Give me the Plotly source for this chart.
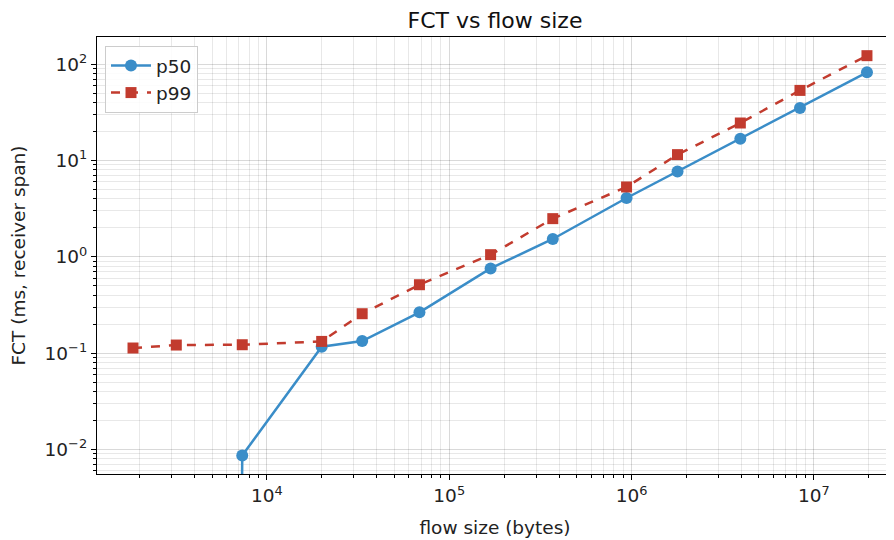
import numpy as np
import plotly.graph_objects as go

flow_size = [1843, 3184, 7323, 19970, 33300, 68650, 168600, 369800, 938900,
             1787000, 3950000, 8390000, 19550000]
p50 = [0, 0, 0.00867, 0.1165, 0.1336, 0.265, 0.758, 1.531, 4.08, 7.7, 16.85, 35.1, 82.2]
p99 = [0.113, 0.1213, 0.1222, 0.1323, 0.2565, 0.513, 1.052, 2.49, 5.31, 11.5, 24.5, 53.4, 122.5]

x_tickvals = [1e4, 1e5, 1e6, 1e7]
x_ticktext = ["10<sup>4</sup>", "10<sup>5</sup>", "10<sup>6</sup>", "10<sup>7</sup>"]
y_tickvals = [1e-2, 1e-1, 1e0, 1e1, 1e2]
y_ticktext = ["10<sup>\u22122</sup>", "10<sup>\u22121</sup>", "10<sup>0</sup>",
              "10<sup>1</sup>", "10<sup>2</sup>"]


def minor_vals(lo_exp, hi_exp):
    return [m * 10.0 ** e for e in range(lo_exp, hi_exp + 1) for m in range(2, 10)]


# emulate matplotlib's clipping of non-positive values on a log axis
def clip_log(v):
    return [val if val > 0 else 1e-100 for val in v]


BLUE = "#3a8dc8"
RED = "#c23b2e"
FONT = "DejaVu Sans"
FS = 18.5

fig = go.Figure()
fig.add_trace(go.Scatter(
    x=flow_size, y=clip_log(p50), name="p50", mode="lines+markers",
    line=dict(color=BLUE, width=2.5),
    marker=dict(symbol="circle", size=12, color=BLUE),
))
fig.add_trace(go.Scatter(
    x=flow_size, y=p99, name="p99", mode="lines+markers",
    line=dict(color=RED, width=2.5, dash="dash"),
    marker=dict(symbol="square", size=11, color=RED),
))

axis_common = dict(
    type="log",
    automargin=False,
    showline=True, linecolor="black", linewidth=1.2,
    ticks="outside", ticklen=5, tickwidth=1, tickcolor="black",
    showgrid=True, gridcolor="rgba(0,0,0,0.15)", gridwidth=1,
    zeroline=False,
    tickfont=dict(family=FONT, size=FS, color="#222"),
)
minor_common = dict(ticks="outside", ticklen=3, tickwidth=0.8, tickcolor="black",
                    showgrid=True, gridcolor="rgba(0,0,0,0.09)", gridwidth=1)

fig.update_xaxes(
    **axis_common,
    mirror=True,
    range=[3.068, 7.434],
    tickvals=x_tickvals, ticktext=x_ticktext,
    minor=dict(**minor_common, tickvals=minor_vals(3, 7)),
    title=dict(text="flow size (bytes)", font=dict(family=FONT, size=FS, color="#222")),
)
fig.update_yaxes(
    **axis_common,
    mirror=False,
    range=[-2.255, 2.282],
    tickvals=y_tickvals, ticktext=y_ticktext,
    minor=dict(**minor_common, tickvals=minor_vals(-3, 2)),
    title=dict(text="FCT (ms, receiver span)", font=dict(family=FONT, size=FS, color="#222")),
)

# page has an 8px body margin; size and margins compensate for it
fig.update_layout(
    width=886, height=532,
    margin=dict(l=89, r=1, t=29, b=66, autoexpand=False),
    paper_bgcolor="white", plot_bgcolor="white",
    title=dict(text="FCT vs flow size", x=0.5, xanchor="center", xref="paper",
               y=1 - 12 / 532, yanchor="middle",
               font=dict(family=FONT, size=22, color="#111")),
    legend=dict(x=8 / 796, y=1 - 9 / 437, xanchor="left", yanchor="top",
                bgcolor="rgba(255,255,255,0.85)", bordercolor="#cccccc", borderwidth=1,
                font=dict(family=FONT, size=FS, color="#222"),
                itemwidth=40),
    showlegend=True,
)

fig.write_html("out.html")
